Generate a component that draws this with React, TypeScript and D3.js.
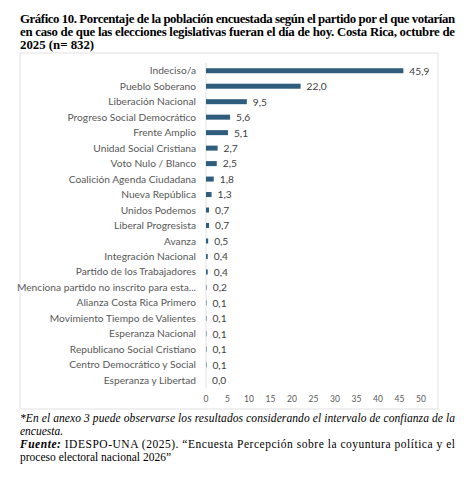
import React from 'react'
import * as d3 from 'd3'

const categories = [
  'Indeciso/a',
  'Pueblo Soberano',
  'Liberación Nacional',
  'Progreso Social Democrático',
  'Frente Amplio',
  'Unidad Social Cristiana',
  'Voto Nulo / Blanco',
  'Coalición Agenda Ciudadana',
  'Nueva República',
  'Unidos Podemos',
  'Liberal Progresista',
  'Avanza',
  'Integración Nacional',
  'Partido de los Trabajadores',
  'Menciona partido no inscrito para esta...',
  'Alianza Costa Rica Primero',
  'Movimiento Tiempo de Valientes',
  'Esperanza Nacional',
  'Republicano Social Cristiano',
  'Centro Democrático y Social',
  'Esperanza y Libertad',
]

const values = [45.9, 22.0, 9.5, 5.6, 5.1, 2.7, 2.5, 1.8, 1.3, 0.7, 0.7, 0.5, 0.4, 0.4, 0.2, 0.1, 0.1, 0.1, 0.1, 0.1, 0.0]

const ticks = [0, 5, 10, 15, 20, 25, 30, 35, 40, 45, 50]

const titleLines = [
  'Gráfico 10. Porcentaje de la población encuestada según el partido por el que votarían',
  'en caso de que las elecciones legislativas fueran el día de hoy. Costa Rica, octubre de',
  '2025 (n= 832)',
]

const BAR = '#2e5d7e'
const LABEL = '#595959'
const SANS = 'Lato, "Open Sans", sans-serif'
const SERIF = '"Liberation Serif", "Times New Roman", serif'

export default function App() {
  const width = 476
  const height = 480
  const x = d3.scaleLinear().domain([0, 50]).range([206, 421])
  const y = d3.scalePoint<string>().domain(categories).range([63, 388]).padding(0.5)
  const fmt = (v: number) => d3.format('.1f')(v).replace('.', ',')

  return (
    <div style={{ position: 'absolute', left: 0, top: 0, background: '#fff' }}>
      <svg width={width} height={height} style={{ display: 'block' }}>
        <rect width={width} height={height} fill="#fff" />
        {titleLines.map((t, i) => (
          <text
            key={t}
            x={20}
            y={23 + i * 13}
            fontFamily={SERIF}
            fontWeight="bold"
            fontSize={12.8}
            fill="#000"
            textLength={i < 2 ? 435 : undefined}
            lengthAdjust="spacing"
          >
            {t}
          </text>
        ))}

        <rect x={20} y={53} width={418} height={356} fill="none" stroke="#d9d9d9" strokeWidth={0.8} />

        <line x1={x(0)} x2={x(0)} y1={63} y2={388} stroke="#d9d9d9" strokeWidth={0.8} />

        {categories.map((c, i) => {
          const cy = y(c) as number
          const v = values[i]
          return (
            <g key={c}>
              <text
                x={196}
                y={cy}
                dy="0.35em"
                textAnchor="end"
                fontFamily={SANS}
                fontSize={10.2}
                fill={LABEL}
              >
                {c}
              </text>
              {v > 0 && (
                <rect
                  x={x(0)}
                  y={cy - 2.5}
                  width={Math.max(x(v) - x(0), 0.8)}
                  height={5}
                  fill={BAR}
                  opacity={v < 0.3 ? 0.6 : 1}
                />
              )}
              <text
                x={x(v) + 6}
                y={cy}
                dy="0.38em"
                fontFamily={SANS}
                fontSize={10.2}
                fill="#404040"
              >
                {fmt(v)}
              </text>
            </g>
          )
        })}

        {ticks.map((t) => (
          <text
            key={t}
            x={x(t)}
            y={399}
            dy="0.35em"
            textAnchor="middle"
            fontFamily={SANS}
            fontSize={8.5}
            fill={LABEL}
          >
            {t}
          </text>
        ))}

        <text x={20} y={422} fontFamily={SERIF} fontStyle="italic" fontSize={11.5} textLength={435} lengthAdjust="spacing">
          *En el anexo 3 puede observarse los resultados considerando el intervalo de confianza de la
        </text>
        <text x={20} y={435} fontFamily={SERIF} fontStyle="italic" fontSize={11.5}>
          encuesta.
        </text>
        <text x={20} y={448} fontFamily={SERIF} fontSize={11.5} textLength={435} lengthAdjust="spacing">
          <tspan fontWeight="bold" fontStyle="italic">Fuente:</tspan> IDESPO-UNA (2025). “Encuesta Percepción sobre la coyuntura política y el
        </text>
        <text x={20} y={461} fontFamily={SERIF} fontSize={11.5}>
          proceso electoral nacional 2026”
        </text>
      </svg>
    </div>
  )
}
